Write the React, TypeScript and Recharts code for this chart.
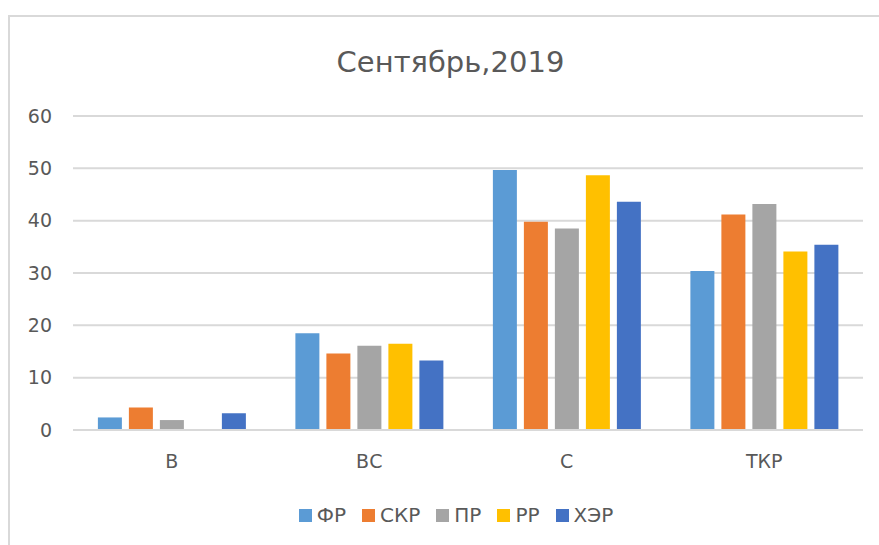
import { Bar, BarChart, CartesianGrid, XAxis, YAxis } from "recharts";

const categories = ["В", "ВС", "С", "ТКР"];
const seriesNames = ["ФР", "СКР", "ПР", "РР", "ХЭР"];
const colors = ["#5b9bd5", "#ed7d31", "#a5a5a5", "#ffc000", "#4472c4"];

const frValues = [2.4, 18.5, 49.7, 30.4];
const skrValues = [4.3, 14.6, 39.8, 41.2];
const prValues = [1.9, 16.1, 38.5, 43.2];
const rrValues = [0, 16.5, 48.7, 34.1];
const kherValues = [3.2, 13.3, 43.6, 35.4];

const yTicks = [0, 10, 20, 30, 40, 50, 60];

const seriesValues = [frValues, skrValues, prValues, rrValues, kherValues];

const data = categories.map((label, i) => {
  const row: Record<string, string | number> = { label };
  seriesNames.forEach((name, s) => {
    row[name] = seriesValues[s][i];
  });
  return row;
});

const font = "'DejaVu Sans', sans-serif";
const textColor = "#595959";

export default function App() {
  return (
    <div
      style={{
        position: "absolute",
        left: 0,
        top: 0,
        width: 879,
        height: 545,
        background: "#fff",
        overflow: "hidden",
        fontFamily: font,
      }}
    >
      <div
        style={{
          position: "absolute",
          left: 8,
          top: 15,
          width: 900,
          height: 600,
          borderLeft: "2px solid #d9d9d9",
          borderTop: "2px solid #d9d9d9",
        }}
      />
      <div
        style={{
          position: "absolute",
          left: 0,
          top: 48,
          width: 901,
          textAlign: "center",
          fontSize: 29,
          lineHeight: "29px",
          color: textColor,
        }}
      >
        Сентябрь,2019
      </div>
      <div style={{ position: "absolute", left: 0, top: 0 }}>
        <BarChart
          width={879}
          height={545}
          data={data}
          margin={{ top: 116, right: 16, left: 0, bottom: 65 }}
          barCategoryGap="12.6%"
          barGap={7}
        >
          <CartesianGrid vertical={false} stroke="#d9d9d9" strokeWidth={2} />
          <XAxis
            dataKey="label"
            height={50}
            tickLine={false}
            axisLine={{ stroke: "#d9d9d9", strokeWidth: 2 }}
            tickMargin={19}
            tick={{ fill: textColor, fontSize: 19, fontFamily: font }}
          />
          <YAxis
            width={73}
            domain={[0, 60]}
            ticks={yTicks}
            tickLine={false}
            axisLine={false}
            tickSize={6}
            tickMargin={15}
            tick={{ fill: textColor, fontSize: 19, fontFamily: font }}
          />
          {seriesNames.map((name, s) => (
            <Bar key={name} dataKey={name} fill={colors[s]} isAnimationActive={false} />
          ))}
        </BarChart>
      </div>
      <div
        style={{
          position: "absolute",
          left: 0,
          top: 505,
          width: 912,
          display: "flex",
          justifyContent: "center",
          alignItems: "center",
          fontSize: 20,
          lineHeight: "20px",
          color: textColor,
        }}
      >
        {seriesNames.map((name, s) => (
          <div key={name} style={{ display: "flex", alignItems: "center", marginRight: s < seriesNames.length - 1 ? 16 : 0 }}>
            <span style={{ width: 13, height: 13, background: colors[s], marginRight: 5, display: "inline-block" }} />
            <span>{name}</span>
          </div>
        ))}
      </div>
    </div>
  );
}
